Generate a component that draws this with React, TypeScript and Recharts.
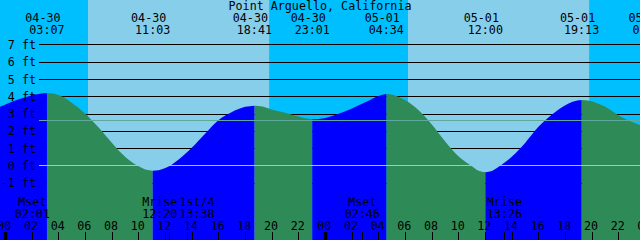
import React from 'react';
import { ComposedChart, Area, XAxis, YAxis, ReferenceArea, ReferenceLine } from 'recharts';

const W = 640;
const H = 240;
const FONT = '"DejaVu Sans Mono", "Liberation Mono", monospace';
const FS = 11.7;

const TITLE = 'Point Arguello, California';

// hours counted from 04-30 00:00
const X_DOMAIN: [number, number] = [-0.4, 47.6];
const Y_DOMAIN: [number, number] = [-4.28, 9.6];

const TIDE_HOURS = [
  -0.4, 0.5, 1.0, 1.5, 2.0, 2.5, 3.12, 3.6, 4.0, 5.0, 6.0, 7.0, 8.0, 9.0, 10.0, 10.5, 11.05,
  11.5, 12.0, 13.0, 14.0, 15.0, 16.0, 17.0, 18.0, 18.68, 19.3, 20.0, 21.0, 22.0, 22.5, 23.02,
  23.5, 24.0, 25.0, 26.0, 27.0, 28.0, 28.57, 29.1, 30.0, 31.0, 32.0, 33.0, 34.0, 35.0, 35.5, 36.0,
  36.5, 37.0, 38.0, 39.0, 40.0, 41.0, 42.0, 43.0, 43.22, 43.8, 44.5, 45.0, 46.0, 47.0, 47.6,
];
const TIDE_FEET = [
  3.43, 3.72, 3.86, 3.98, 4.09, 4.17, 4.22, 4.19, 4.10, 3.65, 3.02, 2.22, 1.33, 0.52, -0.02, -0.2, -0.27,
  -0.24, -0.12, 0.38, 1.07, 1.88, 2.66, 3.12, 3.42, 3.49, 3.44, 3.26, 3.08, 2.86, 2.76, 2.70,
  2.72, 2.78, 3.02, 3.33, 3.68, 4.05, 4.16, 4.11, 3.80, 3.22, 2.38, 1.40, 0.55, -0.01, -0.28, -0.36,
  -0.29, -0.05, 0.55, 1.35, 2.28, 2.98, 3.52, 3.80, 3.82, 3.78, 3.60, 3.42, 2.92, 2.55, 2.37,
];

const EVENT_HOURS = [3.12, 11.05, 18.68, 23.02, 28.57, 36.0, 43.22, 48.35];
const EVENT_DATES = ['04-30', '04-30', '04-30', '04-30', '05-01', '05-01', '05-01', '05-02'];
const EVENT_TIMES = ['03:07', '11:03', '18:41', '23:01', '04:34', '12:00', '19:13', '00:21'];

const MOON_HOURS = [2.02, 12.33, 13.63, 26.77, 37.43];
const MOON_NAMES = ['Mset', 'Mrise', '1st/4', 'Mset', 'Mrise'];
const MOON_TIMES = ['02:01', '12:20', '13:38', '02:46', '13:26'];
const MOON_NUDGE = [0, -10, 10, 0, 0];

const HOUR_TICKS = [0, 2, 4, 6, 8, 10, 12, 14, 16, 18, 20, 22, 24, 26, 28, 30, 32, 34, 36, 38, 40, 42, 44, 46, 48];
const HOUR_LABELS = ['00', '02', '04', '06', '08', '10', '12', '14', '16', '18', '20', '22',
  '00', '02', '04', '06', '08', '10', '12', '14', '16', '18', '20', '22', '00'];

const FEET_TICKS = [-1, 0, 1, 2, 3, 4, 5, 6, 7];
const FEET_LABELS = ['-1 ft', '0 ft', '1 ft', '2 ft', '3 ft', '4 ft', '5 ft', '6 ft', '7 ft'];

const DATUM_FT = 0;
const MSL_FT = 2.63;
const GRID_FROM_HOUR = 2.53;

// alternating night / day / night ...
const SUN_BOUNDS = [-0.4, 6.2, 19.78, 30.2, 43.78, 47.6];

const NIGHT = '#00BFFF';
const DAY = '#87CEEB';
const RISE = '#0000FF';
const FALL = '#2E8B57';

const data = TIDE_HOURS.map((t, i) => {
  const v = TIDE_FEET[i];
  const prev = i > 0 ? TIDE_FEET[i - 1] : null;
  const next = i < TIDE_FEET.length - 1 ? TIDE_FEET[i + 1] : null;
  const risingIn = prev !== null && v > prev;
  const risingOut = next !== null && next > v;
  const fallingIn = prev !== null && v < prev;
  const fallingOut = next !== null && next < v;
  return {
    t,
    rise: risingIn || risingOut ? v : null,
    fall: fallingIn || fallingOut ? v : null,
  };
});

const txt = { fontFamily: FONT, fontSize: FS, fill: '#000' } as const;

const HourTick = (props: any) => {
  const { x, payload } = props;
  const idx = HOUR_TICKS.indexOf(payload.value);
  const midnight = payload.value % 24 === 0;
  return (
    <g>
      {midnight ? (
        <rect x={x - 1.5} y={H - 8} width={3.5} height={8} fill="#000" />
      ) : (
        <line x1={x} x2={x} y1={H - 8} y2={H} stroke="#000" strokeWidth={1} shapeRendering="crispEdges" />
      )}
      <text x={x - 1} y={H - 10} textAnchor="middle" {...txt}>{HOUR_LABELS[idx]}</text>
    </g>
  );
};

const MoonTick = (props: any) => {
  const { x, payload } = props;
  const idx = MOON_HOURS.indexOf(payload.value);
  const cx = x + MOON_NUDGE[idx];
  return (
    <g>
      <line x1={x} x2={x} y1={H - 8} y2={H} stroke="#000" strokeWidth={1} shapeRendering="crispEdges" />
      <text x={cx} y={H - 34} textAnchor="middle" {...txt}>{MOON_NAMES[idx]}</text>
      <text x={cx} y={H - 22.5} textAnchor="middle" {...txt}>{MOON_TIMES[idx]}</text>
    </g>
  );
};

const EventTick = (props: any) => {
  const { x, payload } = props;
  const idx = EVENT_HOURS.indexOf(payload.value);
  return (
    <g>
      <text x={x - 4} y={21.7} textAnchor="middle" {...txt}>{EVENT_DATES[idx]}</text>
      <text x={x} y={34} textAnchor="middle" {...txt}>{EVENT_TIMES[idx]}</text>
    </g>
  );
};

const FeetTick = (props: any) => {
  const { y, payload } = props;
  const idx = FEET_TICKS.indexOf(payload.value);
  return (
    <text x={36} y={y + 4} textAnchor="end" {...txt}>{FEET_LABELS[idx]}</text>
  );
};

export default function App() {
  const shades = SUN_BOUNDS.slice(0, -1).map((x1, i) => ({ x1, x2: SUN_BOUNDS[i + 1], night: i % 2 === 0 }));
  return (
    <div style={{ position: 'absolute', left: 0, top: 0, width: W, height: H }}>
      <ComposedChart width={W} height={H} data={data} margin={{ top: 0, right: 0, bottom: 0, left: 0 }}>
        <XAxis xAxisId={0} dataKey="t" type="number" domain={X_DOMAIN} allowDataOverflow
          ticks={HOUR_TICKS} interval={0} mirror axisLine={false} tickLine={false} tick={HourTick} />
        <XAxis xAxisId="moon" dataKey="t" type="number" domain={X_DOMAIN} allowDataOverflow
          ticks={MOON_HOURS} interval={0} mirror axisLine={false} tickLine={false} tick={MoonTick} />
        <XAxis xAxisId="tide" orientation="top" dataKey="t" type="number" domain={X_DOMAIN} allowDataOverflow
          ticks={EVENT_HOURS} interval={0} mirror axisLine={false} tickLine={false} tick={EventTick} />
        <YAxis yAxisId={0} type="number" domain={Y_DOMAIN} allowDataOverflow ticks={FEET_TICKS} interval={0}
          mirror axisLine={false} tickLine={false} tick={FeetTick} />
        {shades.map((s, i) => (
          <ReferenceArea key={'s' + i} x1={s.x1} x2={s.x2} y1={Y_DOMAIN[0]} y2={Y_DOMAIN[1]}
            fill={s.night ? NIGHT : DAY} fillOpacity={1} stroke="none" zIndex={-300} ifOverflow="visible" />
        ))}
        {FEET_TICKS.map((v) => (
          <ReferenceLine key={'g' + v} segment={[{ x: GRID_FROM_HOUR, y: v }, { x: X_DOMAIN[1], y: v }]}
            stroke="#000" strokeWidth={1} zIndex={-200} shapeRendering="crispEdges" />
        ))}
        <Area type="monotone" dataKey="fall" baseValue={Y_DOMAIN[0]} fill={FALL} fillOpacity={1} stroke="none"
          connectNulls={false} dot={false} activeDot={false} isAnimationActive={false} />
        <Area type="monotone" dataKey="rise" baseValue={Y_DOMAIN[0]} fill={RISE} fillOpacity={1} stroke="none"
          connectNulls={false} dot={false} activeDot={false} isAnimationActive={false} />
        <ReferenceLine segment={[{ x: GRID_FROM_HOUR, y: MSL_FT }, { x: X_DOMAIN[1], y: MSL_FT }]}
          stroke="#5FA89C" strokeWidth={1} zIndex={150} shapeRendering="crispEdges" />
        <ReferenceLine segment={[{ x: GRID_FROM_HOUR, y: DATUM_FT }, { x: X_DOMAIN[1], y: DATUM_FT }]}
          stroke={DAY} strokeWidth={1} zIndex={150} shapeRendering="crispEdges" />
        <text x={W / 2} y={9.5} textAnchor="middle" {...txt}>{TITLE}</text>
      </ComposedChart>
    </div>
  );
}
